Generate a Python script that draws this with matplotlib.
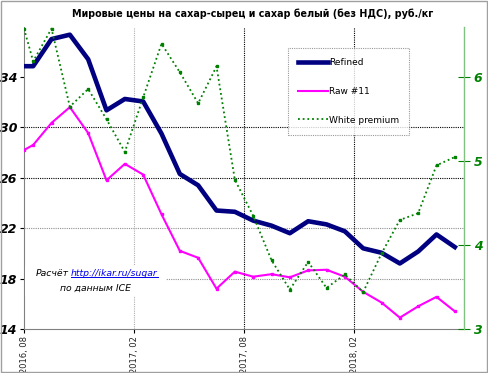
import matplotlib
matplotlib.use("Agg")
import matplotlib.pyplot as plt
from matplotlib.lines import Line2D
from matplotlib.patches import Rectangle
import numpy as np

# monthly prices, first point 1 Aug 2016, then mid-month Aug 2016 .. Jul 2018
months = [0, 0.5] + [m + 0.5 for m in range(1, 24)]
refined = [34.85, 34.85, 37.0, 37.35, 35.4, 31.35, 32.25, 32.05, 29.5, 26.3, 25.4, 23.4, 23.3,
           22.6, 22.2, 21.6, 22.55, 22.3, 21.75, 20.4, 20.05, 19.2, 20.15, 21.5, 20.5]
raw11 = [28.2, 28.6, 30.35, 31.6, 29.55, 25.8, 27.1, 26.25, 23.1, 20.2, 19.65, 17.2, 18.55,
         18.15, 18.35, 18.1, 18.65, 18.7, 18.15, 16.95, 16.1, 14.9, 15.8, 16.55, 15.4]
white_premium = [6.58, 6.19, 6.58, 5.65, 5.86, 5.5, 5.11, 5.76, 6.4, 6.06, 5.69, 6.13, 4.78,
                 4.35, 3.82, 3.47, 3.80, 3.49, 3.65, 3.44, 3.90, 4.30, 4.38, 4.95, 5.05]
tick_months = [0, 6, 12, 18]
tick_labels = ["2016, 08", "2017, 02", "2017, 08", "2018, 02"]
left_ticks = [14, 18, 22, 26, 30, 34]
right_ticks = [3, 4, 5, 6]

W, H = 488, 373
fig = plt.figure(figsize=(W / 100, H / 100), dpi=100)
fig.patches.append(Rectangle((0.002, 0.003), 0.995, 0.994, transform=fig.transFigure,
                             fill=False, edgecolor="#a0a0a0", lw=1))

ax = fig.add_axes([24 / W, 1 - 329 / H, 440 / W, 302.5 / H])
ax.set_xlim(0, 24)
ax.set_ylim(14, 38)

# gridlines (Excel draws them in two shades)
for v, c in [(18, "#909090"), (22, "#909090"), (26, "black"), (30, "black")]:
    ax.axhline(v, color=c, lw=0.8, ls=(0, (1, 1)), zorder=1)
for v, c in [(6, "#b0b0b0"), (12, "black"), (18, "black")]:
    ax.axvline(v, color=c, lw=0.8, ls=(0, (1, 1)), zorder=1)

ax.plot(months, refined, color="#000080", lw=3.3, zorder=4, label="Refined")
ax.plot(months, raw11, color="#ff00ff", lw=1.5, marker="s", ms=2, zorder=4, label="Raw #11")

ax2 = ax.twinx()
ax2.set_ylim(3, 3 + 302.5 / 83.9)
ax2.plot(months, white_premium, color="#008000", lw=1.3, ls=(0, (1, 1.6)),
         marker="s", ms=1.6, zorder=4, label="White premium")

ax.set_yticks(left_ticks)
ax.set_yticklabels([str(t) for t in left_ticks], fontsize=9, fontweight="bold", style="italic")
ax.set_xticks(tick_months)
ax.set_xticklabels(tick_labels, rotation=90, fontsize=6, color="#222222")
ax.tick_params(axis="y", direction="out", length=3, width=0.8, pad=2, colors="black")
ax.tick_params(axis="x", direction="out", length=3, width=0.8, pad=2)
ax2.set_yticks(right_ticks)
ax2.set_yticklabels([str(t) for t in right_ticks], fontsize=9, fontweight="bold",
                    style="italic", color="#008000")
ax2.tick_params(axis="y", direction="inout", length=8, width=0.8, pad=3, colors="#008000")

for a in (ax, ax2):
    a.spines["top"].set_visible(False)
ax.spines["right"].set_visible(False)
ax2.spines["left"].set_visible(False)
ax2.spines["bottom"].set_visible(False)
ax.spines["left"].set_color("#808080")
ax.spines["bottom"].set_color("#808080")
ax2.spines["right"].set_color("#80c080")
ax2.spines["right"].set_linewidth(1)

handles = [Line2D([], [], color="#000080", lw=3.3),
           Line2D([], [], color="#ff00ff", lw=1.5),
           Line2D([], [], color="#008000", lw=1.3, ls=(0, (1, 1.6)))]
leg = ax2.legend(handles, ["Refined", "Raw #11", "White premium"],
                 loc="upper left", bbox_to_anchor=((288 - 24) / 440, 1 - (48 - 26.5) / 302.5),
                 fontsize=6.5, frameon=True, fancybox=False, labelspacing=2.2,
                 handlelength=3.3, handletextpad=0.1, borderpad=1.1, borderaxespad=0)
leg.get_frame().set_edgecolor("#808080")
leg.get_frame().set_linestyle((0, (1, 1)))
leg.get_frame().set_linewidth(0.8)

fig.text(253 / W, 1 - 14 / H, "Мировые цены на сахар-сырец и сахар белый (без НДС), руб./кг",
         ha="center", va="center", fontsize=6.9, fontweight="bold")

# source note with white box over the gridline
fig.patches.append(Rectangle((25 / W, 1 - 296 / H), 141 / W, 30 / H, transform=fig.transFigure,
                             facecolor="white", edgecolor="none", zorder=3))
fig.text(69 / W, 1 - 274 / H, "Расчёт", ha="right", va="center", fontsize=6.7, style="italic")
link = fig.text(71 / W, 1 - 274 / H, "http://ikar.ru/sugar", ha="left", va="center",
                fontsize=6.7, style="italic", color="#0000ee")
fig.text(96 / W, 1 - 288 / H, "по данным ICE", ha="center", va="center", fontsize=6.7, style="italic")
fig.canvas.draw()
bb = link.get_window_extent().transformed(fig.transFigure.inverted())
fig.lines.append(Line2D([bb.x0, bb.x1], [bb.y0 + 0.003, bb.y0 + 0.003], transform=fig.transFigure,
                        color="#0000ee", lw=0.7, zorder=5))

fig.savefig("out.png", dpi=100)
